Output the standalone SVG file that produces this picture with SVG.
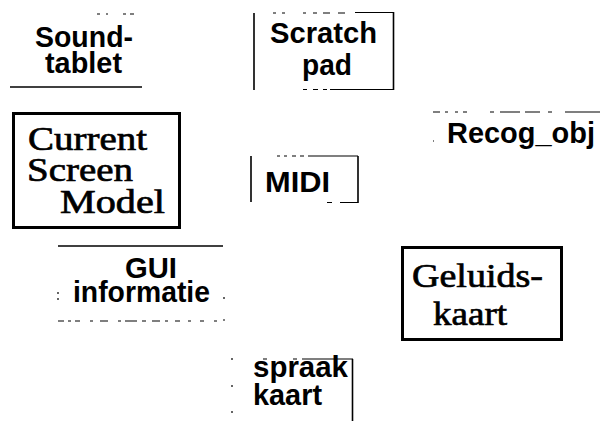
<svg xmlns="http://www.w3.org/2000/svg" width="600" height="421" viewBox="0 0 600 421">
  <style>
    .sans { font-family: "Liberation Sans", Arial, sans-serif; font-weight: bold; font-size: 30px; fill: #000; }
    .serif { font-family: "Liberation Serif", "Times New Roman", serif; font-size: 34px; fill: #000; stroke: #000; stroke-width: 0.7; }
    .edge { fill: none; stroke: #000; stroke-width: 1.6; }
    .thin { fill: none; stroke: #000; stroke-width: 1.2; }
    .heavy { fill: none; stroke: #000; stroke-width: 3; }
  </style>
  <rect width="600" height="421" fill="#fff"/>

  <!-- Sound-tablet: only the underline survives, plus scraps of the top edge -->
  <g id="soundtablet">
    <path class="thin" d="M97 14h3M106 14h2M123 14h3M130 14h4"/>
    <path class="edge" stroke-width="2" d="M10 87H142"/>
    <text class="sans" x="35" y="47" textLength="98" lengthAdjust="spacingAndGlyphs">Sound-</text>
    <text class="sans" x="45" y="73" textLength="77" lengthAdjust="spacingAndGlyphs">tablet</text>
  </g>

  <!-- Scratch pad: open box with broken top/bottom edges -->
  <g id="scratchpad">
    <path class="edge" d="M254 13V90M393.5 12V90"/>
    <path class="thin" d="M273 13h3M282 13h3M303 13h3M313 13h4M323 13h7M338 13h7M355 12.5H394"/>
    <path class="thin" d="M303 89.5h4M313 89.5h5M323 89.5h4M330 89.5H394"/>
    <text class="sans" x="270" y="43" textLength="107" lengthAdjust="spacingAndGlyphs">Scratch</text>
    <text class="sans" x="302" y="75" textLength="50" lengthAdjust="spacingAndGlyphs">pad</text>
  </g>

  <!-- Current Screen Model: heavy framed box -->
  <g id="current-screen-model">
    <rect class="heavy" x="13.5" y="113.5" width="166" height="114"/>
    <text class="serif" x="28" y="150" textLength="119" lengthAdjust="spacingAndGlyphs">Current</text>
    <text class="serif" x="27" y="181" textLength="106" lengthAdjust="spacingAndGlyphs">Screen</text>
    <text class="serif" x="60" y="213" textLength="105" lengthAdjust="spacingAndGlyphs">Model</text>
  </g>

  <!-- Recog_obj: only a broken top edge -->
  <g id="recog-obj">
    <path class="thin" d="M433 112h7M445 112h3M455 112h3M463 112h4M490 112h4M500 112h20M525 112h15M548 112h4M565 112H600"/>
    <path class="thin" d="M433 141h1"/>
    <text class="sans" x="447" y="143" textLength="148" lengthAdjust="spacingAndGlyphs">Recog_obj</text>
  </g>

  <!-- MIDI -->
  <g id="midi">
    <path class="edge" d="M251 156V202M358 156V203"/>
    <path class="thin" d="M277 156h3M284 156h3M292 156h4M300 156h4M308 156H358"/>
    <path class="thin" d="M327 202.5h5M340 202.5H358"/>
    <text class="sans" x="265" y="192" textLength="65" lengthAdjust="spacingAndGlyphs">MIDI</text>
  </g>

  <!-- GUI informatie -->
  <g id="gui-informatie">
    <path class="edge" stroke-width="2" d="M58 246H223"/>
    <path class="thin" d="M58 321h6M68 321h3M75 321h5M90 321h3M100 321h8M118 321h3M125 321h12M142 321h4M152 321h8M165 321h3M175 321h5M188 321h3M200 321h4M214 321h3M223 320h2"/>
    <path class="thin" d="M58 292v2M58 298v2M224 297v2"/>
    <text class="sans" x="125" y="278" textLength="52" lengthAdjust="spacingAndGlyphs">GUI</text>
    <text class="sans" x="73" y="302" textLength="137" lengthAdjust="spacingAndGlyphs">informatie</text>
  </g>

  <!-- Geluidskaart: heavy framed box -->
  <g id="geluidskaart">
    <rect class="heavy" x="402.5" y="247.5" width="159" height="92"/>
    <text class="serif" x="412" y="287" textLength="131" lengthAdjust="spacingAndGlyphs">Geluids-</text>
    <text class="serif" x="433" y="325" textLength="74" lengthAdjust="spacingAndGlyphs">kaart</text>
  </g>

  <!-- spraakkaart: right edge and top edge, left edge only as dots -->
  <g id="spraakkaart">
    <path class="edge" d="M352.5 359V421"/>
    <path class="thin" d="M263 359h4M293 359h4M302 359H353"/>
    <path class="thin" d="M232 358v2M232 385v2M232 411v2"/>
    <text class="sans" x="253" y="377" textLength="95" lengthAdjust="spacingAndGlyphs">spraak</text>
    <text class="sans" x="253" y="405" textLength="69" lengthAdjust="spacingAndGlyphs">kaart</text>
  </g>

  <g id="connectors"/>
</svg>
